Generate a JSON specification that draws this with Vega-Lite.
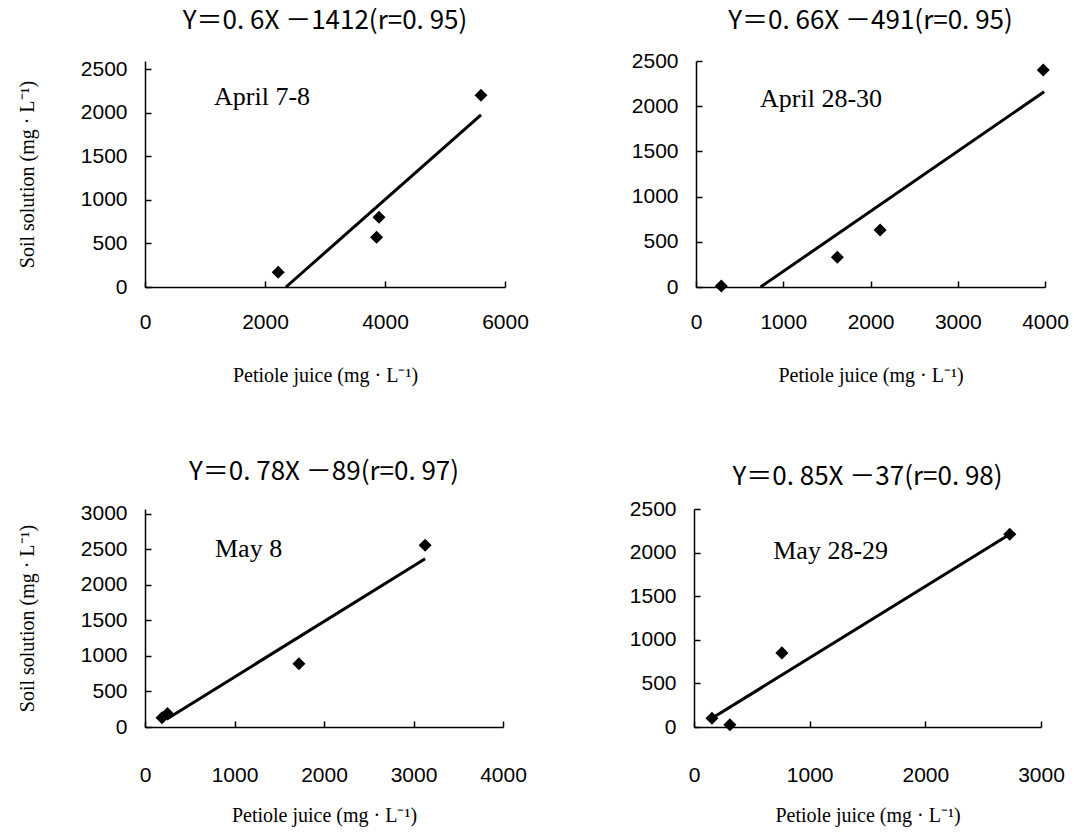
{
  "$schema": "https://vega.github.io/schema/vega-lite/v6.json",
  "background": "white",
  "padding": {"left": 17, "top": 8, "right": 0, "bottom": 5},
  "spacing": 73,
  "config": {
    "view": {"stroke": null},
    "concat": {"spacing": 102},
    "axis": {
      "grid": false,
      "domainColor": "black",
      "tickColor": "black",
      "labelColor": "black",
      "titleColor": "black",
      "domainWidth": 1.5,
      "tickWidth": 1.5,
      "tickSize": -6,
      "labelFont": "Liberation Sans",
      "labelFontSize": 21,
      "labelFlush": false,
      "labelOverlap": false,
      "format": "d",
      "titleFont": "Liberation Serif",
      "titleFontSize": 20,
      "titleFontWeight": "normal"
    },
    "axisX": {"labelPadding": 30, "titlePadding": 33},
    "axisY": {"labelPadding": 24, "titlePadding": 43},
    "title": {"font": "Noto Sans CJK JP", "fontSize": 26, "fontWeight": "normal", "color": "black"}
  },
  "vconcat": [
    {
      "hconcat": [
        {
          "width": 360, "height": 226,
          "title": {"text": "Y＝0. 6X －1412(r=0. 95)", "offset": 24},
          "data": {"values": [
            {"kind": "pt", "x": 2220, "y": 170},
            {"kind": "pt", "x": 3900, "y": 800},
            {"kind": "pt", "x": 3860, "y": 570},
            {"kind": "pt", "x": 5600, "y": 2200},
            {"kind": "line", "x": 2350, "y": 0},
            {"kind": "line", "x": 5600, "y": 1975},
            {"kind": "label", "x": 1150, "y": 2180, "label": "April 7-8"}
          ]},
          "layer": [
            {"transform": [{"filter": "datum.kind == 'line'"}],
             "mark": {"type": "line", "color": "black", "strokeWidth": 3},
             "encoding": {
               "x": {"field": "x", "type": "quantitative", "scale": {"domain": [0, 6000], "nice": false}, "axis": {"values": [0, 2000, 4000, 6000], "tickCount": 12, "title": "Petiole juice (mg · L⁻¹)"}},
               "y": {"field": "y", "type": "quantitative", "scale": {"domain": [0, 2592], "nice": false}, "axis": {"values": [0, 500, 1000, 1500, 2000, 2500], "tickCount": 12, "title": "Soil solution (mg · L⁻¹)"}}
             }},
            {"transform": [{"filter": "datum.kind == 'pt'"}],
             "mark": {"type": "point", "shape": "diamond", "filled": true, "color": "black", "opacity": 1, "size": 170},
             "encoding": {"x": {"field": "x", "type": "quantitative"}, "y": {"field": "y", "type": "quantitative"}}},
            {"transform": [{"filter": "datum.kind == 'label'"}],
             "mark": {"type": "text", "align": "left", "baseline": "middle", "font": "Liberation Serif", "fontSize": 26, "color": "black"},
             "encoding": {"x": {"field": "x", "type": "quantitative"}, "y": {"field": "y", "type": "quantitative"}, "text": {"field": "label"}}}
          ]
        },
        {
          "width": 349, "height": 226,
          "title": {"text": "Y＝0. 66X －491(r=0. 95)", "offset": 16},
          "data": {"values": [
            {"kind": "pt", "x": 290, "y": 10},
            {"kind": "pt", "x": 1620, "y": 330},
            {"kind": "pt", "x": 2110, "y": 630},
            {"kind": "pt", "x": 3980, "y": 2400},
            {"kind": "line", "x": 740, "y": 0},
            {"kind": "line", "x": 3990, "y": 2160},
            {"kind": "label", "x": 734, "y": 2077, "label": "April 28-30"}
          ]},
          "layer": [
            {"transform": [{"filter": "datum.kind == 'line'"}],
             "mark": {"type": "line", "color": "black", "strokeWidth": 3},
             "encoding": {
               "x": {"field": "x", "type": "quantitative", "scale": {"domain": [0, 4000], "nice": false}, "axis": {"values": [0, 1000, 2000, 3000, 4000], "tickCount": 12, "title": "Petiole juice (mg · L⁻¹)"}},
               "y": {"field": "y", "type": "quantitative", "scale": {"domain": [0, 2500], "nice": false}, "axis": {"values": [0, 500, 1000, 1500, 2000, 2500], "tickCount": 12, "title": null}}
             }},
            {"transform": [{"filter": "datum.kind == 'pt'"}],
             "mark": {"type": "point", "shape": "diamond", "filled": true, "color": "black", "opacity": 1, "size": 170},
             "encoding": {"x": {"field": "x", "type": "quantitative"}, "y": {"field": "y", "type": "quantitative"}}},
            {"transform": [{"filter": "datum.kind == 'label'"}],
             "mark": {"type": "text", "align": "left", "baseline": "middle", "font": "Liberation Serif", "fontSize": 26, "color": "black"},
             "encoding": {"x": {"field": "x", "type": "quantitative"}, "y": {"field": "y", "type": "quantitative"}, "text": {"field": "label"}}}
          ]
        }
      ]
    },
    {
      "hconcat": [
        {
          "width": 358, "height": 218,
          "title": {"text": "Y＝0. 78X －89(r=0. 97)", "offset": 18},
          "data": {"values": [
            {"kind": "pt", "x": 190, "y": 130},
            {"kind": "pt", "x": 250, "y": 190},
            {"kind": "pt", "x": 1720, "y": 890},
            {"kind": "pt", "x": 3130, "y": 2560},
            {"kind": "line", "x": 240, "y": 110},
            {"kind": "line", "x": 3130, "y": 2370},
            {"kind": "label", "x": 782, "y": 2505, "label": "May 8"}
          ]},
          "layer": [
            {"transform": [{"filter": "datum.kind == 'line'"}],
             "mark": {"type": "line", "color": "black", "strokeWidth": 3},
             "encoding": {
               "x": {"field": "x", "type": "quantitative", "scale": {"domain": [0, 4000], "nice": false}, "axis": {"values": [0, 1000, 2000, 3000, 4000], "tickCount": 12, "labelPadding": 43, "titlePadding": 20, "title": "Petiole juice (mg · L⁻¹)"}},
               "y": {"field": "y", "type": "quantitative", "scale": {"domain": [0, 3070], "nice": false}, "axis": {"values": [0, 500, 1000, 1500, 2000, 2500, 3000], "tickCount": 12, "title": "Soil solution (mg · L⁻¹)"}}
             }},
            {"transform": [{"filter": "datum.kind == 'pt'"}],
             "mark": {"type": "point", "shape": "diamond", "filled": true, "color": "black", "opacity": 1, "size": 170},
             "encoding": {"x": {"field": "x", "type": "quantitative"}, "y": {"field": "y", "type": "quantitative"}}},
            {"transform": [{"filter": "datum.kind == 'label'"}],
             "mark": {"type": "text", "align": "left", "baseline": "middle", "font": "Liberation Serif", "fontSize": 26, "color": "black"},
             "encoding": {"x": {"field": "x", "type": "quantitative"}, "y": {"field": "y", "type": "quantitative"}, "text": {"field": "label"}}}
          ]
        },
        {
          "width": 347, "height": 218,
          "title": {"text": "Y＝0. 85X －37(r=0. 98)", "offset": 8},
          "data": {"values": [
            {"kind": "pt", "x": 155, "y": 100},
            {"kind": "pt", "x": 310, "y": 25},
            {"kind": "pt", "x": 760, "y": 850},
            {"kind": "pt", "x": 2730, "y": 2210},
            {"kind": "line", "x": 155, "y": 100},
            {"kind": "line", "x": 2730, "y": 2210},
            {"kind": "label", "x": 685, "y": 2015, "label": "May 28-29"}
          ]},
          "layer": [
            {"transform": [{"filter": "datum.kind == 'line'"}],
             "mark": {"type": "line", "color": "black", "strokeWidth": 3},
             "encoding": {
               "x": {"field": "x", "type": "quantitative", "scale": {"domain": [0, 3000], "nice": false}, "axis": {"values": [0, 1000, 2000, 3000], "tickCount": 12, "labelPadding": 43, "titlePadding": 20, "title": "Petiole juice (mg · L⁻¹)"}},
               "y": {"field": "y", "type": "quantitative", "scale": {"domain": [0, 2500], "nice": false}, "axis": {"values": [0, 500, 1000, 1500, 2000, 2500], "tickCount": 12, "title": null}}
             }},
            {"transform": [{"filter": "datum.kind == 'pt'"}],
             "mark": {"type": "point", "shape": "diamond", "filled": true, "color": "black", "opacity": 1, "size": 170},
             "encoding": {"x": {"field": "x", "type": "quantitative"}, "y": {"field": "y", "type": "quantitative"}}},
            {"transform": [{"filter": "datum.kind == 'label'"}],
             "mark": {"type": "text", "align": "left", "baseline": "middle", "font": "Liberation Serif", "fontSize": 26, "color": "black"},
             "encoding": {"x": {"field": "x", "type": "quantitative"}, "y": {"field": "y", "type": "quantitative"}, "text": {"field": "label"}}}
          ]
        }
      ]
    }
  ]
}
